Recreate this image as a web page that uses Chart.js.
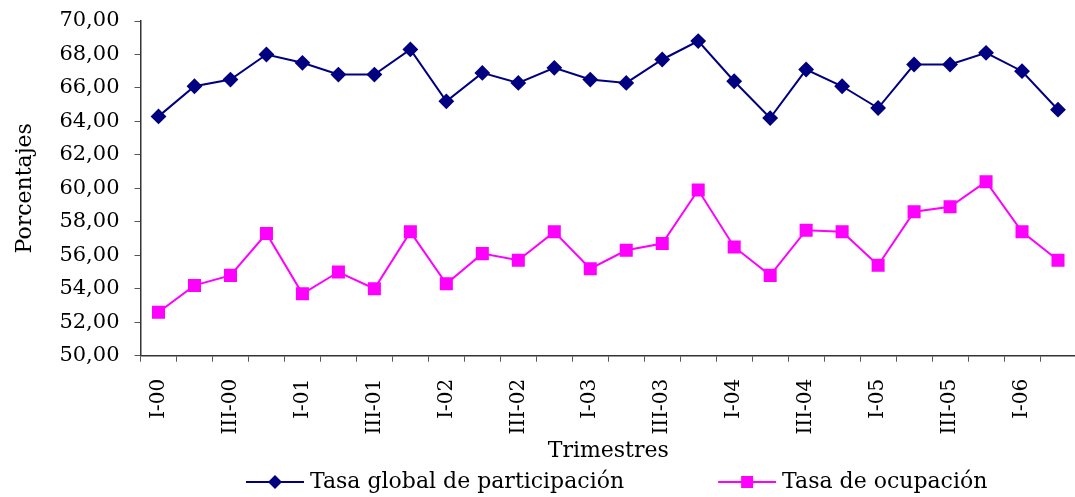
<!DOCTYPE html>
<html><head><meta charset="utf-8">
<script src="https://cdn.jsdelivr.net/npm/chart.js@4.4.1/dist/chart.umd.min.js"></script>
<style>html,body{margin:0;padding:0;background:#fff}#wrap{width:1075px;height:497px}</style>
</head><body><div id="wrap"><canvas id="c" width="1075" height="497"></canvas></div>
<script>
const categories = ["I-00","II-00","III-00","IV-00","I-01","II-01","III-01","IV-01","I-02","II-02","III-02","IV-02","I-03","II-03","III-03","IV-03","I-04","II-04","III-04","IV-04","I-05","II-05","III-05","IV-05","I-06","II-06"];
const tasaGlobal = [64.3,66.1,66.5,68.0,67.5,66.8,66.8,68.3,65.2,66.9,66.3,67.2,66.5,66.3,67.7,68.8,66.4,64.2,67.1,66.1,64.8,67.4,67.4,68.1,67.0,64.7];
const tasaOcupacion = [52.6,54.2,54.8,57.3,53.7,55.0,54.0,57.4,54.3,56.1,55.7,57.4,55.2,56.3,56.7,59.9,56.5,54.8,57.5,57.4,55.4,58.6,58.9,60.4,57.4,55.7];
const seriesNames = ["Tasa global de participación","Tasa de ocupación"];
const yTicks = {min:50, max:70, step:2};

const FONT = "'DejaVu Serif', serif";
const NAVY = '#000080', MAG = '#FF00FF';
const BOXW = 143, LPAD = 4;
const PLOT_RIGHT = 1076;

function legendIcon(color, style){
  const c = document.createElement('canvas');
  c.width = BOXW + 10; c.height = 16;
  const x = c.getContext('2d');
  const x0 = c.width - 58, mid = x0 + 29;
  x.strokeStyle = color; x.lineWidth = 2;
  x.beginPath(); x.moveTo(x0,8); x.lineTo(c.width,8); x.stroke();
  x.fillStyle = color;
  x.beginPath();
  if (style==='diamond'){ x.moveTo(mid,1); x.lineTo(mid+7,8); x.lineTo(mid,15); x.lineTo(mid-7,8); x.closePath(); }
  else { x.rect(mid-6,2,12,12); }
  x.fill();
  return c;
}
const icons = [legendIcon(NAVY,'diamond'), legendIcon(MAG,'square')];

const layoutTweak = {
  id:'layoutTweak',
  afterLayout(chart){
    const lg = chart.legend;
    if (lg) { const dx = 156 - (lg.left + LPAD); lg.left += dx; lg.right += dx; }
    const xs = chart.scales.x, ca = chart.chartArea;
    const extra = PLOT_RIGHT - ca.right;
    if (extra > 0) {
      ca.right += extra; ca.width += extra;
      xs.right += extra; xs.width += extra;
      xs.configure();
    }
  }
};

new Chart(document.getElementById('c'), {
  type:'line',
  data:{
    labels: categories,
    datasets:[
      {label:seriesNames[0], data:tasaGlobal, borderColor:NAVY, backgroundColor:NAVY, borderWidth:2, pointStyle:'rectRot', pointRadius:6.5, pointHoverRadius:6.5, tension:0},
      {label:seriesNames[1], data:tasaOcupacion, borderColor:MAG, backgroundColor:MAG, borderWidth:2, pointStyle:'rect', pointRadius:7.8, pointHoverRadius:7.8, tension:0}
    ]
  },
  options:{
    responsive:false, animation:false, devicePixelRatio:1,
    layout:{padding:{top:21,right:0,left:12,bottom:-6}},
    plugins:{
      tooltip:{enabled:false},
      legend:{
        position:'bottom', align:'start',
        labels:{
          font:{family:FONT,size:22}, color:'#000', padding:LPAD, usePointStyle:true, pointStyleWidth:BOXW, boxHeight:16,
          generateLabels(chart){
            return chart.data.datasets.map((d,i)=>({text:d.label, pointStyle:icons[i], fillStyle:d.borderColor, strokeStyle:d.borderColor, lineWidth:0, datasetIndex:i, hidden:false, fontColor:'#000'}));
          }
        }
      }
    },
    scales:{
      x:{
        offset:true,
        afterFit(s){ s.paddingLeft = 0; s.paddingRight = 0; },
        grid:{offset:true, drawOnChartArea:false, drawTicks:true, tickLength:6, color:'#555'},
        border:{color:'#333', width:1.5},
        ticks:{autoSkip:false, maxRotation:90, minRotation:90, padding:17, color:'#000', font:{family:FONT,size:20},
          callback(v,i){ return i%2===0 ? categories[i] : ''; }},
        title:{display:true, text:'Trimestres', font:{family:FONT,size:22}, color:'#000', padding:{top:-14,bottom:3}}
      },
      y:{
        min:yTicks.min, max:yTicks.max,
        afterFit(s){ s.paddingTop = 0; s.paddingBottom = 0; },
        grid:{drawOnChartArea:false, drawTicks:true, tickLength:6, color:'#555'},
        border:{color:'#333', width:1.5},
        ticks:{stepSize:yTicks.step, padding:15, color:'#000', font:{family:FONT,size:21},
          callback(v){ return v.toFixed(2).replace('.',','); }},
        title:{display:true, text:'Porcentajes', font:{family:FONT,size:22}, color:'#000', padding:{top:0,bottom:6}}
      }
    }
  },
  plugins:[layoutTweak]
});
</script></body></html>
